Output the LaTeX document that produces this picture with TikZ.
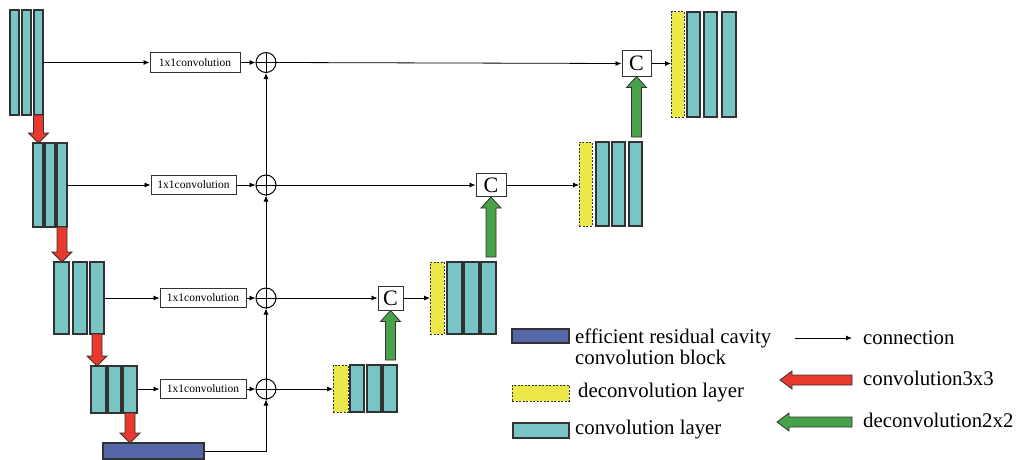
\documentclass[tikz,border=0pt]{standalone}
\usepackage{fontspec}
\setmainfont{Liberation Serif}
\usetikzlibrary{arrows.meta,calc}
\definecolor{teal1}{RGB}{121,197,198}
\definecolor{blue1}{RGB}{86,103,168}
\definecolor{yel1}{RGB}{236,232,74}
\definecolor{red1}{RGB}{232,57,46}
\definecolor{green1}{RGB}{72,162,74}
\definecolor{edge}{RGB}{50,50,50}
\tikzset{
 bar/.style={draw=edge, line width=1.1pt, fill=teal1, inner sep=0, outer sep=0},
 ybar/.style={draw=edge, line width=1pt, dash pattern=on 2pt off 1.5pt, fill=yel1, inner sep=0, outer sep=0},
 bbar/.style={draw=edge, line width=1.1pt, fill=blue1, inner sep=0, outer sep=0},
 convbox/.style={draw=edge, line width=1pt, fill=white, inner sep=0, minimum height=19pt, font=\fontsize{11.5}{12}\selectfont},
 cbox/.style={draw=edge, line width=1pt, fill=white, inner sep=0, font=\fontsize{22}{22}\selectfont},
 sum/.style={draw=black, circle, line width=1pt, minimum size=20pt, inner sep=0},
 conn/.style={draw=black, line width=0.8pt, -{Latex[length=6pt,width=5pt]}},
 plain/.style={draw=black, line width=0.8pt},
 redarr/.style={fill=red1, draw=edge, line width=0.8pt},
 greenarr/.style={fill=green1, draw=edge, line width=0.8pt},
 legtext/.style={font=\fontsize{20.8}{21}\selectfont, anchor=west, inner sep=0, align=left},
}
\newcommand\mkbar[6]{\node[#1, minimum width={#4-#3}, minimum height={#6-#5}] (#2) at ({(#3+#4)/2},{(#5+#6)/2}) {};}
\newcommand\reddown[2]{\filldraw[redarr] let \p1=(#1.south), \p2=(#2.north) in
  (\x1-5pt,\y1) -- (\x1+5pt,\y1) -- (\x1+5pt,\y2+10pt) -- (\x1+10pt,\y2+10pt) -- (\x1,\y2) -- (\x1-10pt,\y2+10pt) -- (\x1-5pt,\y2+10pt) -- cycle;}
\newcommand\grnup[2]{\filldraw[greenarr] let \p1=(#1.north), \p2=(#2.south) in
  (\x2-5pt,\y1+5pt) -- (\x2+5pt,\y1+5pt) -- (\x2+5pt,\y2-11pt) -- (\x2+10pt,\y2-11pt) -- (\x2,\y2) -- (\x2-10pt,\y2-11pt) -- (\x2-5pt,\y2-11pt) -- cycle;}
\newcommand\leftblk[3]{\filldraw[#1] let \p1=(#2), \p2=(#3) in
  (\x1,\y1) -- (\x1+12pt,\y1+9pt) -- (\x1+12pt,\y1+5pt) -- (\x2,\y1+5pt) -- (\x2,\y1-5pt) -- (\x1+12pt,\y1-5pt) -- (\x1+12pt,\y1-9pt) -- cycle;}
\begin{document}
\begin{tikzpicture}[x=1pt,y=-1pt]
\useasboundingbox (0,0) rectangle (1019,460);
% encoder
\mkbar{bar}{a11}{10}{19}{10}{115}
\mkbar{bar}{a12}{22}{31}{10}{115}
\mkbar{bar}{a13}{34}{43}{10}{115}
\mkbar{bar}{a21}{33}{43}{143}{227}
\mkbar{bar}{a22}{45}{55}{143}{227}
\mkbar{bar}{a23}{57}{67}{143}{227}
\mkbar{bar}{a31}{54}{69}{262}{334}
\mkbar{bar}{a32}{73}{87}{262}{334}
\mkbar{bar}{a33}{90}{104}{262}{334}
\mkbar{bar}{a41}{91}{106}{366}{413}
\mkbar{bar}{a42}{108}{121}{366}{413}
\mkbar{bar}{a43}{123}{137}{366}{413}
\mkbar{bbar}{blk}{103}{204}{443}{459}
% decoder
\mkbar{ybar}{d4y}{333}{348}{365}{412}
\mkbar{bar}{d41}{350}{364}{365}{412}
\mkbar{bar}{d42}{367}{381}{365}{412}
\mkbar{bar}{d43}{383}{397}{365}{412}
\mkbar{ybar}{d3y}{430}{444}{262}{334}
\mkbar{bar}{d31}{447}{462}{262}{334}
\mkbar{bar}{d32}{464}{479}{262}{334}
\mkbar{bar}{d33}{481}{496}{262}{334}
\mkbar{ybar}{d2y}{579}{592}{142}{226}
\mkbar{bar}{d21}{596}{609}{142}{226}
\mkbar{bar}{d22}{612}{625}{142}{226}
\mkbar{bar}{d23}{629}{642}{142}{226}
\mkbar{ybar}{d1y}{671}{684}{12}{117}
\mkbar{bar}{d11}{687}{700}{12}{117}
\mkbar{bar}{d12}{704}{717}{12}{117}
\mkbar{bar}{d13}{722}{736}{12}{117}
% 1x1 boxes
\node[convbox, minimum width=90] (b1) at (195,62.5) {1x1convolution};
\node[convbox, minimum width=85] (b2) at (193.5,185) {1x1convolution};
\node[convbox, minimum width=86] (b3) at (203,298) {1x1convolution};
\node[convbox, minimum width=86] (b4) at (203,389) {1x1convolution};
% sums
\node[sum] (s1) at (266,62.5) {};
\node[sum] (s2) at (266,185) {};
\node[sum] (s3) at (266,298) {};
\node[sum] (s4) at (266,389) {};
\foreach \s in {s1,s2,s3,s4}{\draw[plain] (\s.north) -- (\s.south) (\s.west) -- (\s.east);}
% concat boxes
\node[cbox, minimum width=29, minimum height=25] (c1) at (636.5,63.5) {C};
\node[cbox, minimum width=30, minimum height=23] (c2) at (491,185) {C};
\node[cbox, minimum width=25, minimum height=24] (c3) at (390.5,298) {C};
% connections
\draw[conn] (a13.east |- b1.west) -- (b1.west);
\draw[conn] (b1.east) -- (s1.west);
\draw[conn] (s1.east) -- (c1.west);
\draw[conn] (c1.east) -- (c1.east -| d1y.west);
\draw[conn] (a23.east |- b2.west) -- (b2.west);
\draw[conn] (b2.east) -- (s2.west);
\draw[conn] (s2.east) -- (c2.west);
\draw[conn] (c2.east) -- (c2.east -| d2y.west);
\draw[conn] (a33.east |- b3.west) -- (b3.west);
\draw[conn] (b3.east) -- (s3.west);
\draw[conn] (s3.east) -- (c3.west);
\draw[conn] (c3.east) -- (c3.east -| d3y.west);
\draw[conn] (a43.east |- b4.west) -- (b4.west);
\draw[conn] (b4.east) -- (s4.west);
\draw[conn] (s4.east) -- (s4.east -| d4y.west);
\draw[conn] (blk.east) -- (blk.east -| s4.south) -- (s4.south);
\draw[conn] (s4.north) -- (s3.south);
\draw[conn] (s3.north) -- (s2.south);
\draw[conn] (s2.north) -- (s1.south);
% block arrows
\reddown{a13}{a21}
\reddown{a23}{a31}
\reddown{a33}{a41}
\reddown{a43}{blk}
\grnup{d43}{c3}
\grnup{d33}{c2}
\grnup{d23}{c1}
% legend
\node[bbar, minimum width=57, minimum height=14] (lg1) at (540.5,336) {};
\node[legtext] (lt1) at (575,346.5) {efficient residual cavity\\convolution block};
\node[ybar, minimum width=57, minimum height=16] (lg2) at (540.5,393) {};
\node[legtext] (lt2) at (578,393) {deconvolution layer};
\node[bar, minimum width=56, minimum height=15] (lg3) at (541,430.5) {};
\node[legtext] (lt3) at (575,430) {convolution layer};
\coordinate (cs) at (795,338);
\coordinate (ce) at (852,338);
\draw[conn] (cs) -- (ce);
\node[legtext] (lt4) at (863,338) {connection};
\coordinate (rt) at (780,380);
\coordinate (re) at (852,380);
\leftblk{redarr}{rt}{re}
\node[legtext] (lt5) at (863,378) {convolution3x3};
\coordinate (gt) at (777,422);
\coordinate (ge) at (852,422);
\leftblk{greenarr}{gt}{ge}
\node[legtext] (lt6) at (863,420) {deconvolution2x2};
\end{tikzpicture}
\end{document}
